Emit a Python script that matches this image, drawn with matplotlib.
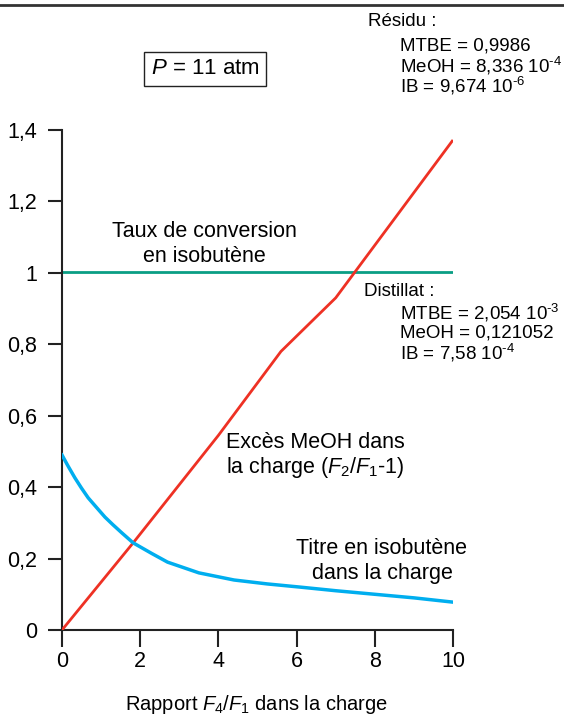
import matplotlib
matplotlib.use("Agg")
import matplotlib.pyplot as plt
from matplotlib.lines import Line2D

plt.rcParams['font.family'] = ['Liberation Sans', 'DejaVu Sans']
plt.rcParams['mathtext.fontset'] = 'custom'
plt.rcParams['mathtext.rm'] = 'Liberation Sans'
plt.rcParams['mathtext.it'] = 'Liberation Sans:italic'
plt.rcParams['mathtext.bf'] = 'Liberation Sans:bold'

# ---- data ----
excess_x = [0, 1.82, 4, 5.6, 7, 10]
excess_y = [0, 0.244, 0.545, 0.78, 0.93, 1.372]

titre_x = [0, 0.15, 0.33, 0.5, 0.67, 0.9, 1.1, 1.3, 1.53, 1.82, 2.3, 2.7, 3.5, 4.4, 5.25, 6.1, 7, 8, 9, 10]
titre_y = [0.49, 0.46, 0.426, 0.397, 0.37, 0.341, 0.316, 0.295, 0.272, 0.244, 0.214, 0.19, 0.16,
           0.14, 0.129, 0.12, 0.11, 0.10, 0.09, 0.078]

conv_x = [0, 10]
conv_y = [1.003, 1.003]

xticks = [0, 2, 4, 6, 8, 10]
xticklabels = ["0", "2", "4", "6", "8", "10"]
yticks = [0, 0.2, 0.4, 0.6, 0.8, 1.0, 1.2, 1.4]
yticklabels = ["0", "0,2", "0,4", "0,6", "0,8", "1", "1,2", "1,4"]

W, H = 564, 717
fig = plt.figure(figsize=(W / 100, H / 100), dpi=100)
x0, x1 = 62, 453
y0, y1 = 630, 130
ax = fig.add_axes([x0 / W, 1 - y0 / H, (x1 - x0) / W, (y0 - y1) / H])

ax.plot(conv_x, conv_y, color='#0a9e84', lw=2.0, zorder=2)
ax.plot(excess_x, excess_y, color='#ee3124', lw=2.0, zorder=3, solid_capstyle='butt')
ax.plot(titre_x, titre_y, color='#00aeef', lw=2.5, zorder=3, solid_joinstyle='round')

ax.set_xlim(0, 10)
ax.set_ylim(0, 1.4)
for s in ['top', 'right']:
    ax.spines[s].set_visible(False)
for s in ['left', 'bottom']:
    ax.spines[s].set_linewidth(1.5)
    ax.spines[s].set_color('#222222')
ax.set_xticks(xticks)
ax.set_xticklabels(xticklabels)
ax.set_yticks(yticks)
ax.set_yticklabels(yticklabels)
ax.tick_params(axis='x', direction='out', length=12, width=1.5, labelsize=15.5, pad=3, color='#222222')
ax.tick_params(axis='y', direction='out', length=10, width=1.5, labelsize=15.5, pad=8, color='#222222')
ax.patch.set_alpha(0)


def ftext(px, py, s, size=15.5, **kw):
    fig.text(px / W, 1 - py / H, s, fontsize=size, **kw)


# top rule
fig.add_artist(Line2D([0, 1], [1 - 5 / H, 1 - 5 / H], transform=fig.transFigure,
                      color='#333333', lw=2))

ftext(205, 69, r"$\it{P}$ = 11 atm", size=16, ha='center', va='center',
      bbox=dict(boxstyle='square,pad=0.3', fc='white', ec='#222222', lw=1))

ftext(368, 22, "Résidu :", size=13.5, ha='left', va='center')
ftext(400, 46, "MTBE = 0,9986", size=13.5, ha='left', va='center')
ftext(400, 66, r"MeOH = 8,336 10$^{\text{-4}}$", size=13.5, ha='left', va='center')
ftext(400, 86, r"IB = 9,674 10$^{\text{-6}}$", size=13.5, ha='left', va='center')

ftext(204, 232, "Taux de conversion", ha='center', va='center')
ftext(204, 256, "en isobutène", ha='center', va='center')

ftext(364, 292, "Distillat :", size=13.5, ha='left', va='center')
ftext(400, 313, r"MTBE = 2,054 10$^{\text{-3}}$", size=13.5, ha='left', va='center')
ftext(400, 333, "MeOH = 0,121052", size=13.5, ha='left', va='center')
ftext(400, 353, r"IB = 7,58 10$^{\text{-4}}$", size=13.5, ha='left', va='center')

ftext(405, 442, "Excès MeOH dans", ha='right', va='center')
ftext(405, 467, r"la charge ($\it{F}_2$/$\it{F}_1$-1)", ha='right', va='center')

ftext(382, 549, "Titre en isobutène", ha='center', va='center')
ftext(382, 573, "dans la charge", ha='center', va='center')

ftext(256, 705, r"Rapport $\it{F}_4$/$\it{F}_1$ dans la charge", size=14.5, ha='center', va='center')

fig.savefig("out.png", dpi=100)
